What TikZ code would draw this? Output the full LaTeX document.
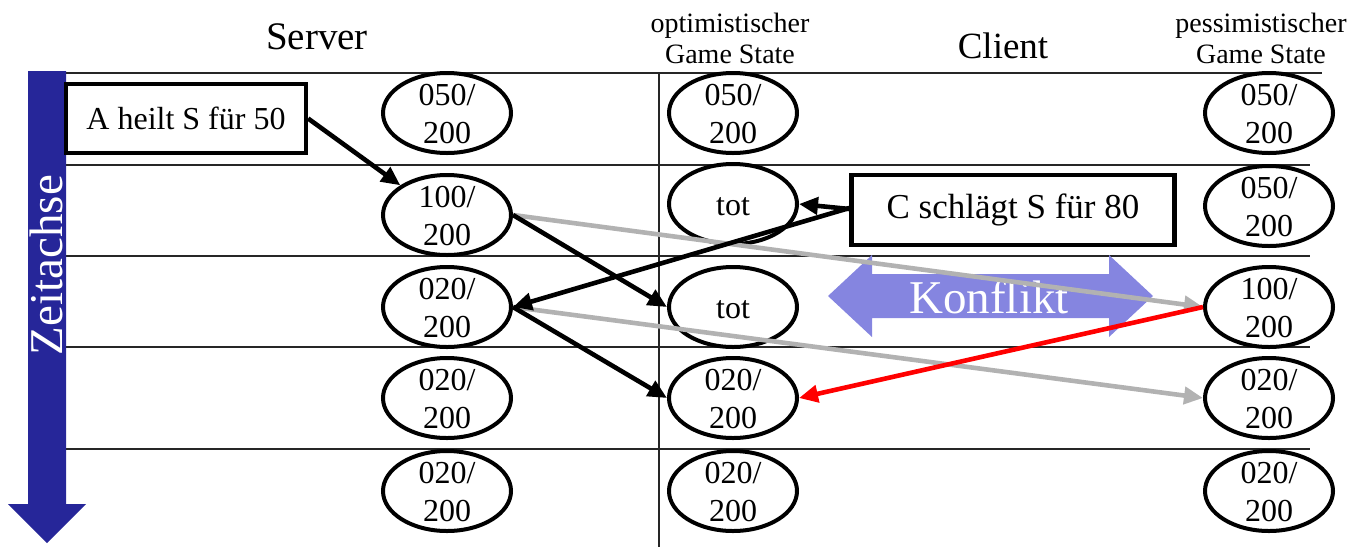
\documentclass[tikz,border=0pt]{standalone}
\usepackage{fontspec}
\setmainfont{Liberation Serif}
\usetikzlibrary{shapes.geometric,arrows.meta}
\definecolor{axisblue}{RGB}{38,38,153}
\definecolor{konfl}{RGB}{133,133,224}
\definecolor{lgray}{RGB}{178,178,178}
\begin{document}
\begin{tikzpicture}[x=1pt,y=-1pt,
  st/.style={ellipse, draw, line width=4pt, minimum width=128pt, minimum height=80pt, inner sep=0pt},
  sttext/.style={align=center, inner sep=0pt, font=\fontsize{32}{38}\selectfont},
  evt/.style={draw, line width=4.2pt, inner sep=0pt, font=\fontsize{32}{38}\selectfont},
  gridline/.style={line width=2pt, color=black!85},
  head/.style={font=\fontsize{38}{42}\selectfont, inner sep=0pt, anchor=base},
  subhead/.style={font=\fontsize{28}{31}\selectfont, align=center, inner sep=0pt},
  blk/.style={line width=4.6pt, -{Triangle[length=19pt,width=17pt]}},
  gry/.style={line width=4.6pt, color=lgray, -{Triangle[length=19pt,width=17pt]}},
  redarr/.style={line width=4.6pt, color=red, -{Triangle[length=19pt,width=17pt]}}
]
\useasboundingbox (0,0) rectangle (1360,547);

% headers
\node[head, font=\fontsize{39}{42}\selectfont] (hserver) at (317,49) {Server};
\node[head, font=\fontsize{37}{42}\selectfont] (hclient) at (1003,58) {Client};
\node[subhead] (hopt) at (730,38) {optimistischer\\Game State};
\node[subhead] (hpess) at (1261,38) {pessimistischer\\Game State};

% grid
\draw[gridline] (66,73) -- (1322,73);
\draw[gridline] (66,165) -- (1310,165);
\draw[gridline] (66,256) -- (1310,256);
\draw[gridline] (66,347) -- (1310,347);
\draw[gridline] (66,449) -- (1310,449);
\draw[gridline] (659,73) -- (659,547);

% time axis
\fill[axisblue] (28,71) -- (66,71) -- (66,504) -- (86,504) -- (47,543) -- (8,504) -- (28,504) -- cycle;
\node[rotate=90, text=white, font=\fontsize{47}{50}\selectfont, inner sep=0pt] (zeit) at (46,265) {Zeitachse};

% server states
\node[st] (s1) at (447,113) {};
\node[st] (s2) at (447,215) {};
\node[st] (s3) at (447,307) {};
\node[st] (s4) at (447,398) {};
\node[st] (s5) at (447,491) {};
\node[sttext] (s1t) at (447,114) {050/\\200};
\node[sttext] (s2t) at (447,216) {100/\\200};
\node[sttext] (s3t) at (447,308) {020/\\200};
\node[sttext] (s4t) at (447,399) {020/\\200};
\node[sttext] (s5t) at (447,492) {020/\\200};

% optimistic states
\node[st] (o1) at (733,113) {};
\node[st] (o2) at (733,204) {};
\node[st] (o3) at (733,307) {};
\node[st] (o4) at (733,398) {};
\node[st] (o5) at (733,491) {};
\node[sttext] (o1t) at (733,114) {050/\\200};
\node[sttext] (o2t) at (733,207) {tot};
\node[sttext] (o3t) at (733,310) {tot};
\node[sttext] (o4t) at (733,399) {020/\\200};
\node[sttext] (o5t) at (733,492) {020/\\200};

% pessimistic states
\node[st] (p1) at (1269,113) {};
\node[st] (p2) at (1269,206) {};
\node[st] (p3) at (1269,307) {};
\node[st] (p4) at (1269,398) {};
\node[st] (p5) at (1269,491) {};
\node[sttext] (p1t) at (1269,114) {050/\\200};
\node[sttext] (p2t) at (1269,207) {050/\\200};
\node[sttext] (p3t) at (1269,308) {100/\\200};
\node[sttext] (p4t) at (1269,399) {020/\\200};
\node[sttext] (p5t) at (1269,492) {020/\\200};

% events
\node[evt, minimum width=240pt, minimum height=69pt] (a) at (186,118.5) {A heilt S für 50};
\node[evt, minimum width=323pt, minimum height=70pt, font=\fontsize{35}{40}\selectfont] (c) at (1013,210) {C schlägt S für 80};

% konflikt arrow
\fill[konfl] (828,296) -- (872,255) -- (872,274) -- (1109,274) -- (1109,255) -- (1153,296) -- (1109,337) -- (1109,318) -- (872,318) -- (872,337) -- cycle;
\node[text=white, font=\fontsize{47}{50}\selectfont, inner sep=0pt] (konflikt) at (989,297) {Konflikt};

% connectors
\draw[gry] (s2.east) -- (p3.west);
\draw[gry] (s3.east) -- (p4.west);
\draw[blk] (a.east) -- (s2.north west);
\draw[blk] (s2.east) -- (o3.west);
\draw[blk] ([yshift=1pt]c.west) -- (o2.east);
\draw[blk] ([yshift=2pt]c.west) -- (s3.east);
\draw[blk] (s3.east) -- (o4.west);
\draw[redarr] (p3.west) -- (o4.east);
\end{tikzpicture}
\end{document}
